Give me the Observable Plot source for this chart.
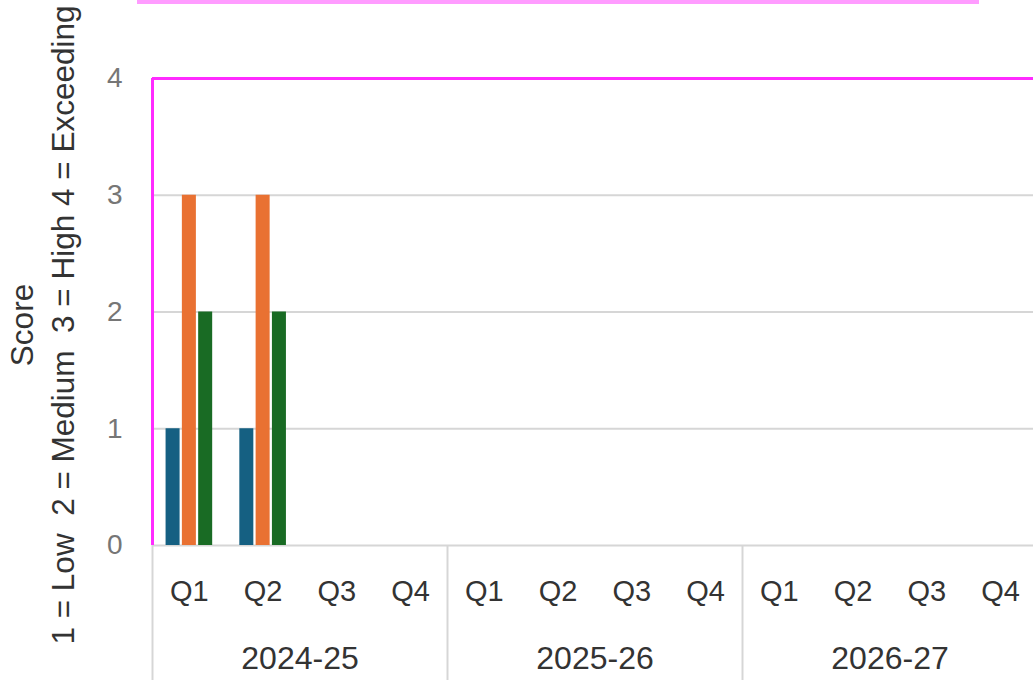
<!DOCTYPE html>
<html>
<head>
<meta charset="utf-8">
<script src="https://cdn.jsdelivr.net/npm/d3@7"></script>
<script src="https://cdn.jsdelivr.net/npm/@observablehq/plot@0.6"></script>
<style>
  html, body { margin: 0; padding: 0; background: #fff; overflow: hidden; }
  #wrap { position: relative; width: 1033px; height: 680px; }
  #topband { position: absolute; left: 137px; top: 0; width: 842px; height: 3.5px; background: #ff9cff; }
  svg text { white-space: pre; }
</style>
</head>
<body>
<div id="wrap"><div id="topband"></div></div>
<script>
// ---- data ----
const years = ["2024-25", "2025-26", "2026-27"];
const quarters = ["Q1", "Q2", "Q3", "Q4"];
const seriesNames = ["Series 1", "Series 2", "Series 3"];
const seriesColors = ["#156082", "#E97132", "#196B24"];
// values per quarter (12 quarters: 2024-25 Q1..Q4, 2025-26 Q1..Q4, 2026-27 Q1..Q4)
const series1 = [1, 1, null, null, null, null, null, null, null, null, null, null];
const series2 = [3, 3, null, null, null, null, null, null, null, null, null, null];
const series3 = [2, 2, null, null, null, null, null, null, null, null, null, null];
const yTicks = [0, 1, 2, 3, 4];
const yTitle = "Score\n1 = Low  2 = Medium  3 = High 4 = Exceeding";

// ---- derived tables ----
const allSeries = [series1, series2, series3];
const nQ = years.length * quarters.length;
const step = 0.221, barW = 0.19;
const bars = [];
allSeries.forEach((vals, j) => {
  vals.forEach((v, qi) => {
    if (v == null) return;
    const c = qi + 0.5 + (j - 1) * step;
    bars.push({series: seriesNames[j], value: v, x1: c - barW / 2, x2: c + barW / 2});
  });
});
const qLabels = [];
years.forEach((y, yi) => quarters.forEach((q, k) => qLabels.push({pos: yi * quarters.length + k + 0.5, text: q})));
const yearLabels = years.map((y, yi) => ({pos: yi * quarters.length + quarters.length / 2, text: y}));
const separators = years.map((y, yi) => yi * quarters.length).concat([nQ]);

const chart = Plot.plot({
  width: 1033,
  height: 680,
  marginLeft: 152,
  marginTop: 78,
  marginBottom: 135,
  marginRight: 0,
  style: {fontFamily: "'Liberation Sans', Arial, sans-serif", background: "transparent"},
  x: {domain: [0, nQ], range: [152, 1037], axis: null},
  y: {domain: [0, 4], range: [545, 78], axis: null},
  color: {domain: seriesNames, range: seriesColors},
  marks: [
    Plot.ruleY([1, 2, 3], {x1: 0, x2: nQ, stroke: "#d6d6d6", strokeWidth: 2}),
    Plot.ruleX(separators, {x: d => d, y1: 0, y2: -1.25, stroke: "#d6d6d6", strokeWidth: 2}),
    Plot.ruleY([0], {x1: 0, x2: nQ, stroke: "#d6d6d6", strokeWidth: 2}),
    Plot.rectY(bars, {x1: "x1", x2: "x2", y1: 0, y2: "value", fill: "series"}),
    Plot.ruleY([4], {x1: 0, x2: nQ, stroke: "#ff2bff", strokeWidth: 3}),
    Plot.ruleX([0], {y1: 0, y2: 4, stroke: "#ff2bff", strokeWidth: 3}),
    Plot.text(yTicks, {x: 0, y: d => d, text: d => String(d), textAnchor: "end", dx: -30, fontSize: 28, fill: "#767676"}),
    Plot.text(qLabels, {x: "pos", y: 0, text: "text", dy: 46, fontSize: 29, fill: "#333"}),
    Plot.text(yearLabels, {x: "pos", y: 0, text: "text", dy: 113, fontSize: 32, fill: "#333"}),
    Plot.text([yTitle], {text: d => d, frameAnchor: "left", textAnchor: "middle", rotate: -90, dx: -112, dy: 13, fontSize: 31.5, lineHeight: 1.3, fill: "#333"})
  ]
});
chart.style.position = "absolute";
chart.style.left = "0";
chart.style.top = "0";
chart.style.overflow = "visible";
document.getElementById("wrap").appendChild(chart);
</script>
</body>
</html>
